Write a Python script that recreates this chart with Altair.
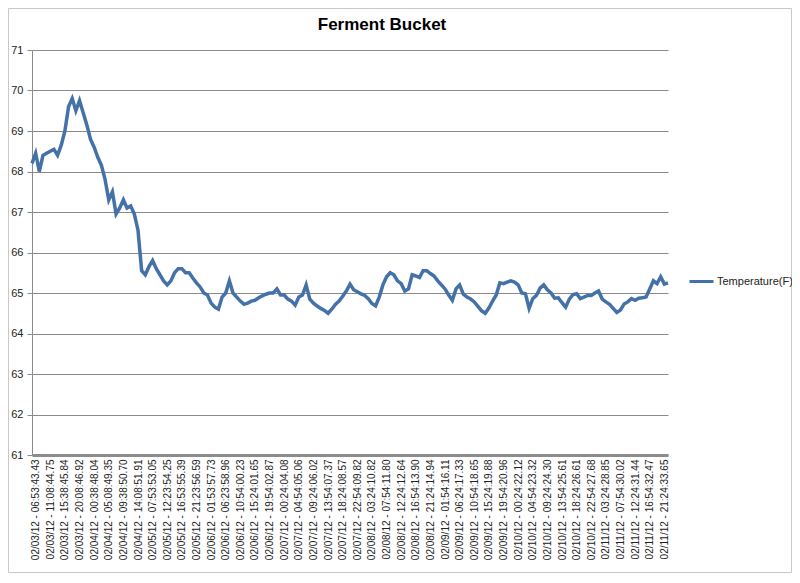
import json
import altair as alt
import pandas as pd

title_text = "Ferment Bucket"
series_name = "Temperature(F)"

tick_labels = [
    "02/03/12 - 06:53:43.43", "02/03/12 - 11:08:44.75", "02/03/12 - 15:38:45.84", "02/03/12 - 20:08:46.92",
    "02/04/12 - 00:38:48.04", "02/04/12 - 05:08:49.35", "02/04/12 - 09:38:50.70", "02/04/12 - 14:08:51.91",
    "02/05/12 - 07:53:53.05", "02/05/12 - 12:23:54.25", "02/05/12 - 16:53:55.39", "02/05/12 - 21:23:56.59",
    "02/06/12 - 01:53:57.73", "02/06/12 - 06:23:58.96", "02/06/12 - 10:54:00.23", "02/06/12 - 15:24:01.65",
    "02/06/12 - 19:54:02.87", "02/07/12 - 00:24:04.08", "02/07/12 - 04:54:05.06", "02/07/12 - 09:24:06.02",
    "02/07/12 - 13:54:07.37", "02/07/12 - 18:24:08.57", "02/07/12 - 22:54:09.82", "02/08/12 - 03:24:10.82",
    "02/08/12 - 07:54:11.80", "02/08/12 - 12:24:12.64", "02/08/12 - 16:54:13.90", "02/08/12 - 21:24:14.94",
    "02/09/12 - 01:54:16.11", "02/09/12 - 06:24:17.33", "02/09/12 - 10:54:18.65", "02/09/12 - 15:24:19.88",
    "02/09/12 - 19:54:20.96", "02/10/12 - 00:24:22.12", "02/10/12 - 04:54:23.32", "02/10/12 - 09:24:24.30",
    "02/10/12 - 13:54:25.61", "02/10/12 - 18:24:26.61", "02/10/12 - 22:54:27.68", "02/11/12 - 03:24:28.85",
    "02/11/12 - 07:54:30.02", "02/11/12 - 12:24:31.44", "02/11/12 - 16:54:32.47", "02/11/12 - 21:24:33.65",
]

# temperature readings, 4 readings per labelled interval
temps = [
    68.2, 68.45, 68.0, 68.4, 68.45, 68.5, 68.55, 68.4, 68.65, 69.0,
    69.6, 69.8, 69.5, 69.75, 69.45, 69.15, 68.8, 68.6, 68.35, 68.15,
    67.8, 67.3, 67.5, 66.95, 67.1, 67.3, 67.1, 67.15, 66.95, 66.55,
    65.55, 65.45, 65.65, 65.8, 65.6, 65.45, 65.3, 65.2, 65.3, 65.5,
    65.6, 65.6, 65.5, 65.5, 65.37, 65.25, 65.15, 65.0, 64.95, 64.75,
    64.65, 64.6, 64.9, 65.0, 65.3, 65.0, 64.9, 64.8, 64.72, 64.75,
    64.8, 64.82, 64.88, 64.93, 64.97, 65.0, 65.0, 65.1, 64.95, 64.95,
    64.85, 64.8, 64.7, 64.9, 64.95, 65.2, 64.85, 64.75, 64.68, 64.62,
    64.57, 64.5, 64.6, 64.72, 64.8, 64.92, 65.05, 65.22, 65.08, 65.03,
    64.98, 64.94, 64.86, 64.74, 64.68, 64.9, 65.2, 65.4, 65.5, 65.45,
    65.3, 65.23, 65.05, 65.1, 65.45, 65.42, 65.38, 65.55, 65.55, 65.48,
    65.42, 65.3, 65.2, 65.1, 64.95, 64.82, 65.1, 65.2, 64.97, 64.9,
    64.85, 64.78, 64.67, 64.56, 64.5, 64.63, 64.8, 64.95, 65.25, 65.23,
    65.27, 65.3, 65.27, 65.2, 65.0, 64.98, 64.62, 64.86, 64.94, 65.12,
    65.2, 65.08, 65.0, 64.87, 64.88, 64.76, 64.65, 64.85, 64.96, 64.98,
    64.86, 64.9, 64.94, 64.94, 65.0, 65.05, 64.85, 64.78, 64.72, 64.62,
    64.52, 64.58, 64.73, 64.78, 64.86, 64.82, 64.87, 64.88, 64.9, 65.1,
    65.3, 65.23, 65.4, 65.22, 65.25,
]

per_label = 4
label_offset = 1
df = pd.DataFrame({"idx": list(range(len(temps))), "temp": temps, "series": series_name})
title_df = pd.DataFrame({"t": [title_text]})
tick_vals = [label_offset + per_label * k for k in range(len(tick_labels))]
label_expr = f"{json.dumps(tick_labels)}[(datum.value - {label_offset}) / {per_label}]"

line = alt.Chart(df).mark_line(strokeWidth=3.5, color="#4472a8").encode(
    x=alt.X("idx:Q",
            scale=alt.Scale(domain=[0, len(temps) - 1], nice=False, zero=False),
            axis=alt.Axis(values=tick_vals, labelExpr=label_expr, labelAngle=270,
                          title=None, grid=False, ticks=False, domainColor="#8c8c8c",
                          domainWidth=3, labelFontSize=10, labelColor="#222",
                          labelFont="Liberation Sans", labelPadding=4,
                          labelOverlap=False, labelBound=False, labelFlush=False)),
    y=alt.Y("temp:Q",
            scale=alt.Scale(domain=[61, 71], nice=False, zero=False),
            axis=alt.Axis(values=list(range(61, 72)), title=None, grid=True,
                          gridColor="#8a8a8a", gridWidth=1, domainColor="#8a8a8a",
                          tickColor="#8a8a8a", tickSize=5, labelFontSize=11,
                          labelColor="#222", labelFont="Liberation Sans", labelPadding=4)),
    stroke=alt.Stroke("series:N",
                      scale=alt.Scale(range=["#4472a8"]),
                      legend=alt.Legend(title=None, orient="none", legendX=656, legendY=218,
                                        symbolType="stroke", symbolSize=576,
                                        symbolStrokeWidth=3, labelFontSize=11,
                                        labelFont="Liberation Sans", labelColor="#222",
                                        labelOffset=2)),
)

border = alt.Chart(title_df).mark_rect(fill=None, stroke="#c8c8c8", strokeWidth=1).encode(
    x=alt.value(-23.5), x2=alt.value(759.5), y=alt.value(-41.5), y2=alt.value(522.5)
)

title_mark = alt.Chart(title_df).mark_text(
    fontSize=17, font="Liberation Sans", fontWeight="bold", color="#000",
    align="center", baseline="middle"
).encode(x=alt.value(350), y=alt.value(-25), text="t:N")

chart = alt.layer(border, line, title_mark).properties(
    width=636, height=405,
    autosize=alt.AutoSizeParams(type="none"),
    padding={"left": 24, "top": 42, "right": 124, "bottom": 118},
).configure_view(stroke=None)

chart.save("out.html", embed_options={"renderer": "svg", "actions": False})
